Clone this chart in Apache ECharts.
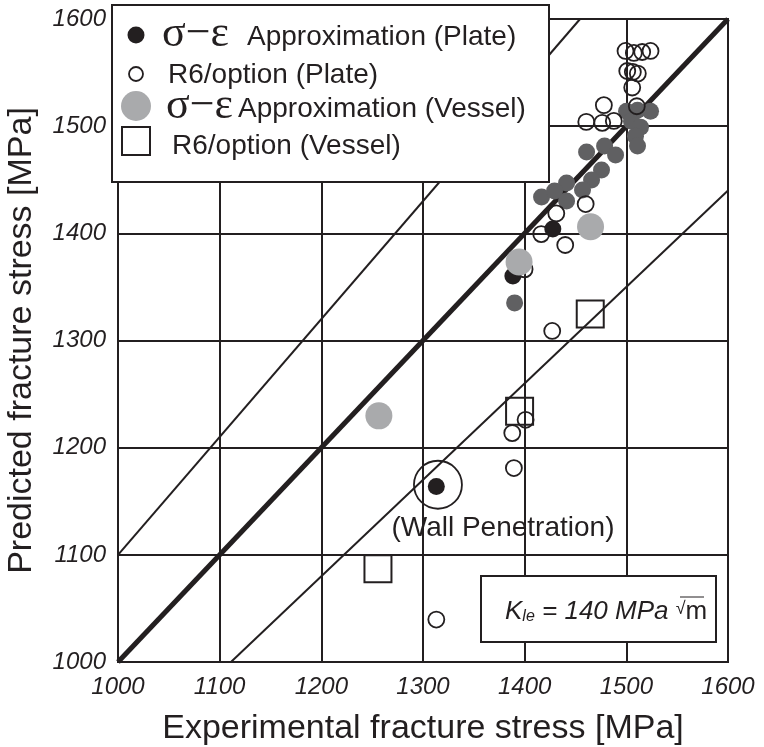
<!DOCTYPE html>
<html>
<head>
<meta charset="utf-8">
<title>Predicted vs experimental fracture stress</title>
<script src="https://cdn.jsdelivr.net/npm/echarts@6/dist/echarts.min.js"></script>
<style>
  html, body { margin: 0; padding: 0; background: #ffffff; }
  #chart { width: 764px; height: 747px; }
</style>
</head>
<body>
<div id="chart"></div>
<script>
// Fracture stress in MPa: [experimental, predicted]
const sigmaEpsPlate = [
  [1427.7, 1404.0], [1388.4, 1360.2], [1313.1, 1163.8]
];
// additional plate results drawn in dark grey
const sigmaEpsPlateGrey = [
  [1500.2, 1514.0], [1511.0, 1514.9], [1523.8, 1514.0], [1505.1, 1504.7],
  [1513.9, 1499.1], [1509.0, 1490.7], [1511.0, 1481.4], [1460.9, 1475.8],
  [1478.6, 1481.4], [1489.4, 1473.0], [1475.6, 1459.0], [1465.8, 1449.7],
  [1456.9, 1440.4], [1441.2, 1446.9], [1416.6, 1433.9], [1429.4, 1439.5],
  [1441.2, 1430.2], [1390.1, 1335.1]
];
const r6Plate = [
  [1499.2, 1570.2], [1507.4, 1568.3], [1515.6, 1569.2], [1523.8, 1570.2],
  [1500.9, 1551.5], [1506.4, 1550.6], [1511.3, 1549.1], [1505.8, 1536.1],
  [1510.3, 1518.6], [1477.9, 1519.6], [1460.6, 1504.0], [1476.3, 1503.1],
  [1487.7, 1504.9], [1460.0, 1427.3], [1431.1, 1418.6], [1416.3, 1399.3],
  [1439.9, 1389.1], [1399.9, 1366.4], [1427.1, 1308.9], [1400.9, 1226.0],
  [1387.8, 1213.6], [1389.4, 1181.0], [1313.1, 1039.6]
];
const sigmaEpsVessel = [
  [1464.8, 1406.2], [1394.5, 1373.3], [1256.6, 1229.7]
];
const r6Vessel = [
  [1464.5, 1324.8], [1395.0, 1233.9], [1255.7, 1086.9]
];
const wallPenetration = [[1314.7, 1165.4]];

// reference lines: predicted = experimental, and the +/-10 % bands
const lineEqual = [[1000, 1000], [1600, 1600]];
const lineUpper = [[1000, 1100], [1454.5, 1600]];
const lineLower = [[1111.1, 1000], [1600, 1440]];

const axisMin = 1000, axisMax = 1600, axisStep = 100;

const INK = '#231f20';
const SANS = '"Liberation Sans", Arial, Helvetica, sans-serif';
const SERIF = '"Liberation Serif", "Times New Roman", serif';

const chart = echarts.init(document.getElementById('chart'), null, { renderer: 'canvas' });

const lineSeries = (data, width) => ({
  type: 'line', data, showSymbol: false, silent: true, z: 1,
  lineStyle: { color: INK, width }, emphasis: { disabled: true }
});

const tickLabel = {
  fontFamily: SANS, fontStyle: 'italic', fontSize: 24, color: INK,
  formatter: v => String(v)
};

// legend and annotation shapes sit above the grid lines
const TOP_Z = 100;
const boxText = (x, y, text, font) => ({
  type: 'text', x, y, z: TOP_Z,
  style: { text, font, fill: INK, verticalAlign: 'middle' }
});

const option = {
  animation: false,
  backgroundColor: '#ffffff',
  grid: {
    left: 118, top: 19, width: 610, height: 643,
    outerBoundsMode: 'none', containLabel: false,
    show: true, borderColor: INK, borderWidth: 2, backgroundColor: 'transparent'
  },
  xAxis: {
    type: 'value', min: axisMin, max: axisMax, interval: axisStep,
    name: 'Experimental fracture stress [MPa]',
    nameLocation: 'middle', nameGap: 50,
    nameTextStyle: { fontFamily: SANS, fontSize: 34, color: INK },
    axisLine: { show: true, lineStyle: { color: INK, width: 2 } },
    axisTick: { show: false },
    axisLabel: Object.assign({ margin: 13 }, tickLabel),
    splitLine: { show: true, lineStyle: { color: INK, width: 2 } }
  },
  yAxis: {
    type: 'value', min: axisMin, max: axisMax, interval: axisStep,
    name: 'Predicted fracture stress [MPa]',
    nameLocation: 'middle', nameGap: 79,
    nameTextStyle: { fontFamily: SANS, fontSize: 34, color: INK },
    axisLine: { show: true, lineStyle: { color: INK, width: 2 } },
    axisTick: { show: false },
    axisLabel: Object.assign({ margin: 12 }, tickLabel),
    splitLine: { show: true, lineStyle: { color: INK, width: 2 } }
  },
  series: [
    lineSeries(lineEqual, 5),
    lineSeries(lineUpper, 2),
    lineSeries(lineLower, 2),
    {
      name: 'σ−ε Approximation (Plate, grey)', type: 'scatter', data: sigmaEpsPlateGrey,
      symbol: 'circle', symbolSize: 17, z: 2, silent: true,
      itemStyle: { color: '#606062', opacity: 1 }
    },
    {
      name: 'σ−ε Approximation (Plate)', type: 'scatter', data: sigmaEpsPlate,
      symbol: 'circle', symbolSize: 17, z: 2, silent: true,
      itemStyle: { color: INK, opacity: 1 }
    },
    {
      name: 'R6/option (Plate)', type: 'scatter', data: r6Plate,
      symbol: 'circle', symbolSize: 16, z: 2, silent: true,
      itemStyle: { color: 'rgba(0,0,0,0)', borderColor: INK, borderWidth: 1.8, opacity: 1 }
    },
    {
      name: 'σ−ε Approximation (Vessel)', type: 'scatter', data: sigmaEpsVessel,
      symbol: 'circle', symbolSize: 27, z: 2, silent: true,
      itemStyle: { color: '#a9aaac', opacity: 1 }
    },
    {
      name: 'R6/option (Vessel)', type: 'scatter', data: r6Vessel,
      symbol: 'rect', symbolSize: 27, z: 2, silent: true,
      itemStyle: { color: 'rgba(0,0,0,0)', borderColor: INK, borderWidth: 2, opacity: 1 }
    },
    {
      name: 'Wall penetration', type: 'scatter', data: wallPenetration,
      symbol: 'circle', symbolSize: 48, z: 2, silent: true,
      itemStyle: { color: 'rgba(0,0,0,0)', borderColor: INK, borderWidth: 1.8, opacity: 1 },
      label: {
        show: true, formatter: '(Wall Penetration)', position: 'bottom', distance: 5,
        offset: [65, 0], fontFamily: SANS, fontSize: 28, color: INK, opacity: 1
      }
    }
  ],
  graphic: [
    // legend box
    { type: 'rect', z: TOP_Z, shape: { x: 112, y: 5, width: 437, height: 177 },
      style: { fill: '#ffffff', stroke: INK, lineWidth: 2 } },
    { type: 'circle', z: TOP_Z, shape: { cx: 136, cy: 35, r: 8.5 }, style: { fill: INK } },
    boxText(162, 34, 'σ−ε', '44px ' + SERIF),
    boxText(247, 37, 'Approximation (Plate)', '28px ' + SANS),
    { type: 'circle', z: TOP_Z, shape: { cx: 136, cy: 74, r: 7 }, style: { fill: '#ffffff', stroke: INK, lineWidth: 1.8 } },
    boxText(168, 75, 'R6/option (Plate)', '28px ' + SANS),
    { type: 'circle', z: TOP_Z, shape: { cx: 136, cy: 106, r: 15 }, style: { fill: '#a9aaac' } },
    boxText(166, 106, 'σ−ε', '44px ' + SERIF),
    boxText(238, 109, 'Approximation (Vessel)', '28px ' + SANS),
    { type: 'rect', z: TOP_Z, shape: { x: 122, y: 127, width: 28, height: 28 }, style: { fill: '#ffffff', stroke: INK, lineWidth: 2 } },
    boxText(172, 146, 'R6/option (Vessel)', '28px ' + SANS),
    // fracture toughness box
    { type: 'rect', z: TOP_Z, shape: { x: 481, y: 576, width: 235, height: 66 },
      style: { fill: '#ffffff', stroke: INK, lineWidth: 2 } },
    {
      type: 'text', z: TOP_Z, x: 505, y: 612,
      style: {
        text: '{k|K}{s|le}{n| = 140 MPa }{r|√}{m|m}',
        verticalAlign: 'middle', fill: INK,
        rich: {
          k: { fontFamily: SANS, fontStyle: 'italic', fontSize: 26, color: INK },
          s: { fontFamily: SANS, fontStyle: 'italic', fontSize: 16, color: INK, padding: [10, 0, 0, 0] },
          n: { fontFamily: SANS, fontStyle: 'italic', fontSize: 26, color: INK },
          r: { fontFamily: SANS, fontSize: 18, color: INK, padding: [0, 0, 6, 0] },
          m: { fontFamily: SANS, fontSize: 26, color: INK }
        }
      }
    },
    { type: 'line', z: TOP_Z, shape: { x1: 680, y1: 597, x2: 704, y2: 597 }, style: { stroke: INK, lineWidth: 1 } }
  ]
};

chart.setOption(option);
</script>
</body>
</html>
